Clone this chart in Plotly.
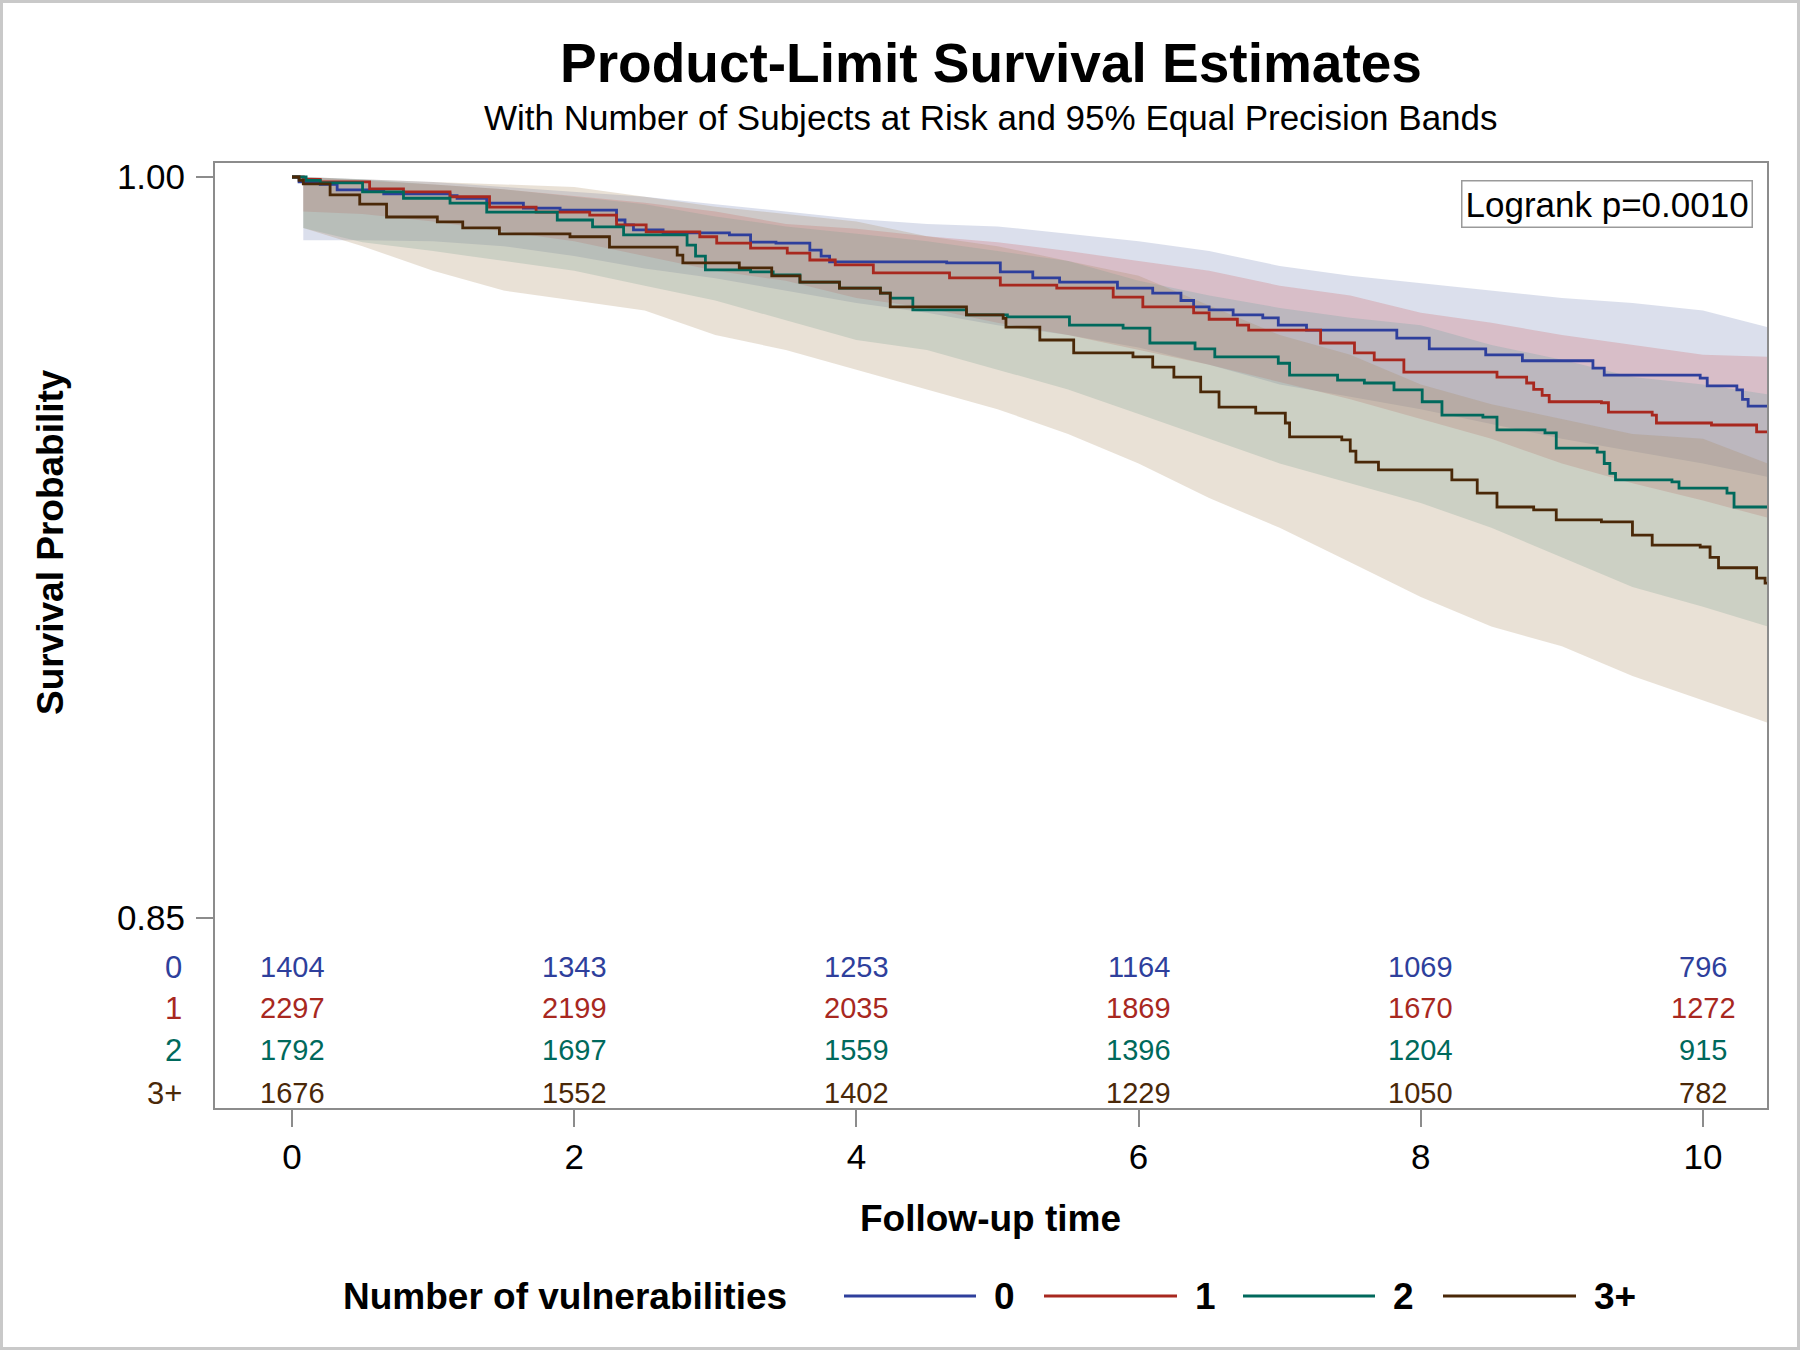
import plotly.graph_objects as go

# ---------------- data ----------------
groups = ["0", "1", "2", "3+"]
line_colors = ["#2E3F9C", "#A8281F", "#00695C", "#4A2808"]
band_colors = ["rgba(111,126,179,0.25)", "rgba(208,91,91,0.25)",
               "rgba(102,165,160,0.25)", "rgba(169,134,91,0.25)"]

time_0 = [0, 0.05, 0.20, 0.32, 0.65, 1.12, 1.17, 1.38, 1.64, 1.90, 2.30, 2.36, 2.42, 2.63, 3.10,
          3.25, 3.43, 3.67, 3.75, 3.81, 4.64, 5.02, 5.25, 5.44, 5.85, 6.10, 6.30, 6.39, 6.50, 6.67,
          6.88, 6.99, 7.19, 7.83, 8.06, 8.46, 8.72, 9.22, 9.30, 9.98, 10.03, 10.24, 10.28, 10.32, 10.46]
surv_0 = [1.0, 0.9990, 0.9985, 0.9974, 0.9966, 0.9962, 0.9957, 0.9947, 0.9937, 0.9933, 0.9913, 0.9903,
          0.9893, 0.9887, 0.9883, 0.9868, 0.9866, 0.9852, 0.9840, 0.9828, 0.9826, 0.9808, 0.9796, 0.9787,
          0.9775, 0.9765, 0.9750, 0.9737, 0.9731, 0.9721, 0.9715, 0.9700, 0.9690, 0.9674, 0.9652, 0.9640,
          0.9628, 0.9613, 0.9599, 0.9593, 0.9577, 0.9569, 0.9550, 0.9536, 0.9536]

time_1 = [0, 0.08, 0.20, 0.55, 0.79, 1.12, 1.40, 1.73, 2.11, 2.30, 2.51, 2.89, 3.01, 3.25, 3.51,
          3.67, 3.85, 4.12, 4.66, 5.02, 5.42, 5.82, 6.03, 6.39, 6.50, 6.70, 6.78, 7.29, 7.53, 7.67,
          7.88, 8.54, 8.75, 8.80, 8.86, 8.91, 9.28, 9.33, 9.64, 9.67, 10.06, 10.38, 10.46]
surv_1 = [1.0, 0.9995, 0.9990, 0.9976, 0.9970, 0.9960, 0.9939, 0.9929, 0.9923, 0.9903, 0.9889, 0.9879,
          0.9866, 0.9856, 0.9846, 0.9832, 0.9822, 0.9806, 0.9796, 0.9781, 0.9775, 0.9757, 0.9737, 0.9725,
          0.9712, 0.9700, 0.9690, 0.9664, 0.9644, 0.9630, 0.9605, 0.9595, 0.9583, 0.9570, 0.9558, 0.9545,
          0.9543, 0.9524, 0.9518, 0.9502, 0.9498, 0.9484, 0.9484]

time_2 = [0, 0.10, 0.20, 0.50, 0.79, 1.12, 1.38, 1.88, 2.13, 2.35, 2.80, 2.86, 2.93, 3.25, 3.41,
          3.60, 3.88, 4.17, 4.24, 4.40, 4.78, 5.07, 5.51, 5.89, 6.08, 6.40, 6.54, 6.99, 7.07, 7.41,
          7.60, 7.81, 8.01, 8.15, 8.44, 8.54, 8.88, 8.96, 9.25, 9.30, 9.34, 9.38, 9.78, 9.83, 10.17,
          10.22, 10.46]
surv_2 = [1.0, 0.9993, 0.9988, 0.9970, 0.9957, 0.9947, 0.9929, 0.9913, 0.9899, 0.9883, 0.9862, 0.9840,
          0.9812, 0.9808, 0.9802, 0.9787, 0.9775, 0.9765, 0.9755, 0.9731, 0.9721, 0.9717, 0.9700, 0.9694,
          0.9664, 0.9652, 0.9636, 0.9623, 0.9599, 0.9589, 0.9583, 0.9569, 0.9545, 0.9518, 0.9514, 0.9488,
          0.9482, 0.9451, 0.9443, 0.9420, 0.9400, 0.9387, 0.9383, 0.9370, 0.9360, 0.9332, 0.9332]

time_3 = [0, 0.05, 0.08, 0.27, 0.48, 0.67, 1.03, 1.21, 1.47, 1.97, 2.25, 2.73, 2.77, 3.17, 3.40,
          3.60, 3.88, 4.17, 4.24, 4.78, 5.04, 5.06, 5.30, 5.54, 5.96, 6.10, 6.25, 6.44, 6.57, 6.83,
          7.04, 7.07, 7.44, 7.50, 7.54, 7.70, 8.22, 8.40, 8.54, 8.80, 8.96, 9.28, 9.50, 9.64, 9.98,
          10.05, 10.11, 10.38, 10.44, 10.46]
surv_3 = [1.0, 0.9993, 0.9986, 0.9964, 0.9945, 0.9919, 0.9909, 0.9897, 0.9885, 0.9879, 0.9858, 0.9842,
          0.9826, 0.9816, 0.9800, 0.9787, 0.9775, 0.9765, 0.9737, 0.9721, 0.9714, 0.9696, 0.9670, 0.9644,
          0.9636, 0.9615, 0.9595, 0.9565, 0.9534, 0.9522, 0.9502, 0.9474, 0.9468, 0.9445, 0.9423, 0.9407,
          0.9387, 0.9360, 0.9332, 0.9326, 0.9306, 0.9302, 0.9275, 0.9255, 0.9251, 0.9230, 0.9209, 0.9188,
          0.9178, 0.9178]

# 95% equal precision bands
band_time = [0.08, 0.50, 1.0, 1.5, 2.0, 2.5, 3.0, 3.5, 4.0, 4.5, 5.0, 5.5, 6.0, 6.5, 7.0, 7.5,
             8.0, 8.5, 9.0, 9.5, 10.0, 10.46]
lower_0 = [0.9872, 0.9872, 0.9870, 0.9860, 0.9840, 0.9815, 0.9795, 0.9770, 0.9745, 0.9725, 0.9700,
           0.9680, 0.9655, 0.9620, 0.9580, 0.9555, 0.9530, 0.9500, 0.9470, 0.9445, 0.9420, 0.9393]
upper_0 = [1.0, 0.9995, 0.9990, 0.9980, 0.9970, 0.9960, 0.9945, 0.9930, 0.9915, 0.9905, 0.9900,
           0.9885, 0.9870, 0.9850, 0.9820, 0.9800, 0.9785, 0.9770, 0.9755, 0.9745, 0.9730, 0.9696]
lower_1 = [0.9930, 0.9925, 0.9910, 0.9890, 0.9870, 0.9840, 0.9810, 0.9790, 0.9755, 0.9735, 0.9705,
           0.9680, 0.9650, 0.9620, 0.9585, 0.9550, 0.9510, 0.9470, 0.9420, 0.9380, 0.9345, 0.9310]
upper_1 = [1.0, 0.9993, 0.9985, 0.9975, 0.9962, 0.9948, 0.9930, 0.9905, 0.9895, 0.9880, 0.9868,
           0.9850, 0.9830, 0.9810, 0.9780, 0.9760, 0.9725, 0.9705, 0.9680, 0.9660, 0.9640, 0.9636]
lower_2 = [0.9897, 0.9868, 0.9850, 0.9830, 0.9810, 0.9780, 0.9750, 0.9710, 0.9670, 0.9650, 0.9610,
           0.9570, 0.9520, 0.9470, 0.9420, 0.9380, 0.9340, 0.9290, 0.9230, 0.9170, 0.9130, 0.9090]
upper_2 = [1.0, 0.9995, 0.9985, 0.9975, 0.9960, 0.9945, 0.9920, 0.9900, 0.9885, 0.9870, 0.9850,
           0.9830, 0.9790, 0.9760, 0.9735, 0.9715, 0.9700, 0.9660, 0.9630, 0.9595, 0.9580, 0.9560]
lower_3 = [0.9897, 0.9860, 0.9810, 0.9770, 0.9750, 0.9730, 0.9680, 0.9650, 0.9610, 0.9570, 0.9530,
           0.9480, 0.9420, 0.9350, 0.9290, 0.9220, 0.9150, 0.9090, 0.9050, 0.8990, 0.8940, 0.8895]
upper_3 = [1.0, 0.9995, 0.9990, 0.9985, 0.9980, 0.9960, 0.9940, 0.9925, 0.9910, 0.9880, 0.9860,
           0.9830, 0.9800, 0.9740, 0.9680, 0.9640, 0.9580, 0.9540, 0.9510, 0.9480, 0.9470, 0.9420]

# number at risk
risk_times = [0, 2, 4, 6, 8, 10]
at_risk_0 = [1404, 1343, 1253, 1164, 1069, 796]
at_risk_1 = [2297, 2199, 2035, 1869, 1670, 1272]
at_risk_2 = [1792, 1697, 1559, 1396, 1204, 915]
at_risk_3 = [1676, 1552, 1402, 1229, 1050, 782]

x_ticks = [0, 2, 4, 6, 8, 10]
y_ticks = [0.85, 1.00]
y_ticklabels = ["0.85", "1.00"]

title_text = "Product-Limit Survival Estimates"
subtitle_text = "With Number of Subjects at Risk and 95% Equal Precision Bands"
logrank_text = "Logrank p=0.0010"
legend_title = "Number of vulnerabilities"

times = [time_0, time_1, time_2, time_3]
survs = [surv_0, surv_1, surv_2, surv_3]
lowers = [lower_0, lower_1, lower_2, lower_3]
uppers = [upper_0, upper_1, upper_2, upper_3]
at_risk = [at_risk_0, at_risk_1, at_risk_2, at_risk_3]

# ---------------- layout geometry ----------------
W, H = 1800, 1350
L, R, T, B = 215, 33, 163, 242
PW, PH = W - L - R, H - T - B
BOTTOM = H - B


def px_x(px):
    return (px - L) / PW


def px_y(py):
    return (BOTTOM - py) / PH


FONT = "Liberation Sans, Arial, Helvetica, sans-serif"

fig = go.Figure()

# bands
for g in range(4):
    fig.add_trace(go.Scatter(x=band_time, y=lowers[g], mode="lines",
                             line=dict(width=0, color=band_colors[g]),
                             hoverinfo="skip", showlegend=False))
    fig.add_trace(go.Scatter(x=band_time, y=uppers[g], mode="lines",
                             line=dict(width=0, color=band_colors[g]),
                             fill="tonexty", fillcolor=band_colors[g],
                             hoverinfo="skip", showlegend=False))

# survival curves
for g in range(4):
    fig.add_trace(go.Scatter(x=times[g], y=survs[g], mode="lines",
                             line=dict(color=line_colors[g], width=2.8, shape="hv"),
                             name=groups[g], showlegend=False))

annotations = []
# title & subtitle
annotations.append(dict(text=title_text, x=0.5, y=px_y(63), xref="paper", yref="paper",
                        showarrow=False, xanchor="center", yanchor="middle",
                        font=dict(family=FONT, size=55, color="#000", weight="bold")))
annotations.append(dict(text=subtitle_text, x=0.5, y=px_y(117), xref="paper", yref="paper",
                        showarrow=False, xanchor="center", yanchor="middle",
                        font=dict(family=FONT, size=35, color="#000")))
# axis titles
annotations.append(dict(text="Survival Probability", x=px_x(50), y=px_y(542), xref="paper",
                        yref="paper", showarrow=False, textangle=-90, xanchor="center",
                        yanchor="middle", font=dict(family=FONT, size=37, color="#000", weight="bold")))
annotations.append(dict(text="Follow-up time", x=px_x(990), y=px_y(1218), xref="paper",
                        yref="paper", showarrow=False, xanchor="center", yanchor="middle",
                        font=dict(family=FONT, size=37, color="#000", weight="bold")))
# logrank box
annotations.append(dict(text=logrank_text, x=px_x(1753), y=px_y(180), xref="paper", yref="paper",
                        showarrow=False, xanchor="right", yanchor="top",
                        bgcolor="white", bordercolor="#9a9a9a", borderwidth=1.5, borderpad=3,
                        font=dict(family=FONT, size=35, color="#000")))
# at-risk table
row_y = [967, 1008, 1050, 1093]
for g in range(4):
    annotations.append(dict(text=groups[g], x=px_x(184), y=px_y(row_y[g]), xref="paper",
                            yref="paper", showarrow=False, xanchor="right", yanchor="middle",
                            font=dict(family=FONT, size=31, color=line_colors[g])))
    for t, n in zip(risk_times, at_risk[g]):
        annotations.append(dict(text=str(n), x=t, y=px_y(row_y[g]), xref="x", yref="paper",
                                showarrow=False, xanchor="center", yanchor="middle",
                                font=dict(family=FONT, size=29, color=line_colors[g])))

# custom legend
leg_y = px_y(1296)
annotations.append(dict(text=legend_title, x=px_x(341), y=leg_y, xref="paper", yref="paper",
                        showarrow=False, xanchor="left", yanchor="middle",
                        font=dict(family=FONT, size=37, color="#000", weight="bold")))
leg_lines = [(844, 976), (1044, 1177), (1243, 1375), (1443, 1576)]
shapes = []
for g in range(4):
    x0, x1 = leg_lines[g]
    shapes.append(dict(type="line", xref="paper", yref="paper", x0=px_x(x0), x1=px_x(x1),
                       y0=leg_y, y1=leg_y, line=dict(color=line_colors[g], width=3)))
    annotations.append(dict(text=groups[g], x=px_x(x1 + 16), y=leg_y, xref="paper", yref="paper",
                            showarrow=False, xanchor="left", yanchor="middle",
                            font=dict(family=FONT, size=37, color="#000", weight="bold")))

# outer frame of the image
shapes.append(dict(type="rect", xref="paper", yref="paper", x0=px_x(1.5), x1=px_x(W - 1.5),
                   y0=px_y(H - 1.5), y1=px_y(1.5), line=dict(color="#c9c9c9", width=3),
                   fillcolor="rgba(0,0,0,0)", layer="below"))

# axis ranges from pixel positions of the ticks
x_per = (1703 - 292) / 10.0
x_range = [(L - 292) / x_per, (L + PW - 292) / x_per]
y_per = (918 - 177) / 0.15
y_range = [0.85 - (BOTTOM - 918) / y_per, 1.0 + (177 - T) / y_per]

axis_common = dict(showgrid=False, zeroline=False, showline=True, linecolor="#8c8c8c",
                   linewidth=2, mirror=True, ticks="outside", ticklen=17, tickwidth=1.5,
                   tickcolor="#8c8c8c",
                   tickfont=dict(family=FONT, size=35, color="#000"))

fig.update_layout(
    width=W, height=H,
    margin=dict(l=L, r=R, t=T, b=B, autoexpand=False),
    paper_bgcolor="white", plot_bgcolor="white",
    showlegend=False,
    xaxis=dict(range=x_range, tickvals=x_ticks, ticktext=[str(v) for v in x_ticks],
               ticklabelstandoff=0, **axis_common),
    yaxis=dict(range=y_range, tickvals=y_ticks, ticktext=y_ticklabels,
               ticklabelstandoff=4, **axis_common),
    annotations=annotations,
    shapes=shapes,
)

fig.write_html("out.html", config={"displayModeBar": False},
               post_script="document.body.style.margin='0';document.body.style.overflow='hidden';")
